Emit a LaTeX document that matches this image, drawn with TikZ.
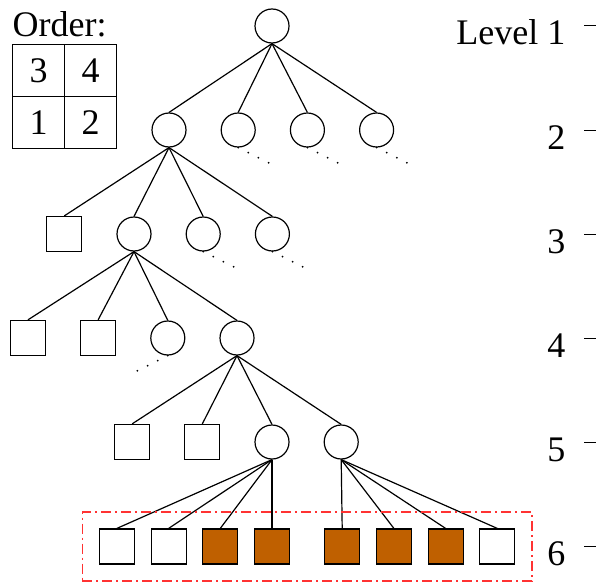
\documentclass[tikz,border=0pt]{standalone}
\usepackage{fontspec}
\setmainfont{Liberation Serif}
\usetikzlibrary{
        fit,
        positioning
    }
\definecolor{picked}{RGB}{191,96,0}
\definecolor{boxred}{RGB}{255,50,50}
\tikzset{node distance=34pt}
\tikzset{inner/.style={draw,circle,minimum size=34pt,inner sep=0pt}}
\tikzset{leaf/.style={draw,rectangle,minimum size=35pt,inner sep=0pt}}
\tikzset{picked leaf/.style={leaf,fill=picked}}
\tikzset{cell/.style={draw,minimum size=52pt,inner sep=0pt,outer sep=0pt}}
\tikzset{trail/.style={line cap=round,dash pattern=on 0pt off 11.3pt,line width=2pt}}

\begin{document}
\begin{tikzpicture}[x=1pt,y=-1pt,line width=1.2pt,font=\fontsize{36}{40}\selectfont]
            \useasboundingbox (0,0) rectangle (596,583);

            % order of the four children
            \node[anchor=base west,inner sep=0pt] (ord) at (12,36.5) {Order:};
            \node[cell] (o3) at (38.5,70.5) {3};
            \node[cell] (o4) [right=0pt of o3] {4};
            \node[cell] (o1) [below=0pt of o3] {1};
            \node[cell] (o2) [right=0pt of o1] {2};

            % the tree, one row per level
            \node[inner] (r) at (272,26) {};

            \node[inner] (a1) at (169,130) {};
            \node[inner] (a2) [right=of a1] {};
            \node[inner] (a3) [right=of a2] {};
            \node[inner] (a4) [right=of a3] {};

            \node[inner] (b1) at (134,234) {};
            \node[leaf]  (s1) [left=of b1] {};
            \node[inner] (b2) [right=of b1] {};
            \node[inner] (b3) [right=of b2] {};

            \node[inner] (c2) at (237,338) {};
            \node[inner] (c1) [left=of c2] {};
            \node[leaf]  (s3) [left=of c1] {};
            \node[leaf]  (s2) [left=of s3] {};

            \node[inner] (d1) at (272,442) {};
            \node[inner] (d2) [right=of d1] {};
            \node[leaf]  (s5) [left=of d1] {};
            \node[leaf]  (s4) [left=of s5] {};

            \node[picked leaf] (e4) at (272,546.5) {};
            \node[picked leaf] (e3) [left=15.5pt of e4] {};
            \node[leaf]        (e2) [left=15.5pt of e3] {};
            \node[leaf]        (e1) [left=15.5pt of e2] {};
            \node[picked leaf] (e5) [right=of e4] {};
            \node[picked leaf] (e6) [right=15.5pt of e5] {};
            \node[picked leaf] (e7) [right=15.5pt of e6] {};
            \node[leaf]        (e8) [right=15.5pt of e7] {};

            \path
                (r.south)  edge (a1.north)
                (r.south)  edge (a2.north)
                (r.south)  edge (a3.north)
                (r.south)  edge (a4.north)
                (a1.south) edge (s1.north)
                (a1.south) edge (b1.north)
                (a1.south) edge (b2.north)
                (a1.south) edge (b3.north)
                (b1.south) edge (s2.north)
                (b1.south) edge (s3.north)
                (b1.south) edge (c1.north)
                (b1.south) edge (c2.north)
                (c2.south) edge (s4.north)
                (c2.south) edge (s5.north)
                (c2.south) edge (d1.north)
                (c2.south) edge (d2.north)
                (d1.south) edge (e1.north)
                (d1.south) edge (e2.north)
                (d1.south) edge (e3.north)
                (d1.south) edge (e4.north)
                (d2.south) edge (e5.north)
                (d2.south) edge (e6.north)
                (d2.south) edge (e7.north)
                (d2.south) edge (e8.north)
            ;

            % subtrees left out
            \draw[trail] (a2.south) -- ++(31,15.5);
            \draw[trail] (a3.south) -- ++(31,15.5);
            \draw[trail] (a4.south) -- ++(31,15.5);
            \draw[trail] (b2.south) -- ++(31,15.5);
            \draw[trail] (b3.south) -- ++(31,15.5);
            \draw[trail] (c1.south) -- ++(-31,15.5);

            % bottom row
            \node[draw=boxred,line width=1.4pt,dash pattern=on 10pt off 4pt on 2pt off 4pt,
                  fit=(e1)(e8),inner sep=16.5pt] (sel) {};

            % level scale
            \foreach \i/\t in {1/Level 1,2/2,3/3,4/4,5/5,6/6} {
                \node[anchor=base east,inner sep=0pt] (lab\i) at (566,{26+104*(\i-1)+19}) {\t};
                \coordinate (tick\i) at (584,{26+104*(\i-1)});
                \draw[line width=1pt] (tick\i) -- ++(12,0);
            }
        \end{tikzpicture}
\end{document}
